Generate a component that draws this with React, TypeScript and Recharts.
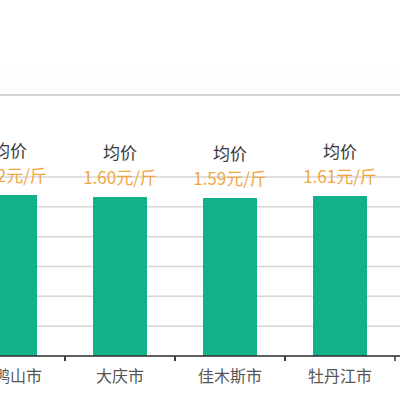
import React from 'react';
import { BarChart, Bar, XAxis, YAxis, CartesianGrid, LabelList } from 'recharts';

const cities = ['双鸭山市', '大庆市', '佳木斯市', '牡丹江市'];
const prices = [1.62, 1.6, 1.59, 1.61];
const yTicks = [0, 0.3, 0.6, 0.9, 1.2, 1.5, 1.8];

const data = cities.map((city, i) => ({ city, price: prices[i] }));

const FONT = '"Noto Sans CJK SC", "Noto Sans", sans-serif';

const PriceLabel = (props: any) => {
  const { x, y, width, value } = props;
  const cx = x + width / 2;
  return (
    <g>
      <text x={cx} y={y - 38} textAnchor="middle" fill="#3a3a3a" fontSize={17} fontFamily={FONT}>
        均价
      </text>
      <text x={cx} y={y - 13} textAnchor="middle" fill="#f0a640" fontSize={17} fontFamily={FONT}>
        {value.toFixed(2)}元/斤
      </text>
    </g>
  );
};

const CityTick = (props: any) => {
  const { x, y, payload } = props;
  return (
    <g>
      <line x1={x + 55} y1={y - 8} x2={x + 55} y2={y - 3} stroke="#333" strokeWidth={1.5} />
      <line x1={x - 55} y1={y - 8} x2={x - 55} y2={y - 3} stroke="#333" strokeWidth={1.5} />
      <text x={x} y={y + 18} textAnchor="middle" fill="#555" fontSize={16} fontFamily={FONT}>
        {payload.value}
      </text>
    </g>
  );
};

export default function App() {
  return (
    <div style={{ position: 'absolute', left: 0, top: 0, width: 400, height: 400, overflow: 'hidden', background: '#fff' }}>
      <div style={{ position: 'absolute', left: 0, top: 62, width: 400, height: 32, background: 'linear-gradient(#ffffff, #fcfcfc)' }} />
      <div style={{ position: 'absolute', left: 0, top: 94, width: 400, height: 2, background: '#d2d2d2' }} />
      <div style={{ position: 'absolute', left: -45, top: 0 }}>
        <BarChart
          width={460}
          height={400}
          data={data}
          margin={{ top: 177, right: 0, bottom: 14, left: 0 }}
        >
          <CartesianGrid vertical={false} stroke="#d6d6d6" strokeWidth={1.5} />
          <YAxis hide domain={[0, 1.8]} ticks={yTicks} type="number" />
          <XAxis
            dataKey="city"
            height={30}
            padding={{ left: 0, right: 20 }}
            axisLine={{ stroke: '#333', strokeWidth: 1.5 }}
            tickLine={false}
            tick={<CityTick />}
            interval={0}
          />
          <Bar dataKey="price" fill="#13b08b" barSize={54} isAnimationActive={false}>
            <LabelList dataKey="price" content={<PriceLabel />} />
          </Bar>
        </BarChart>
      </div>
    </div>
  );
}
